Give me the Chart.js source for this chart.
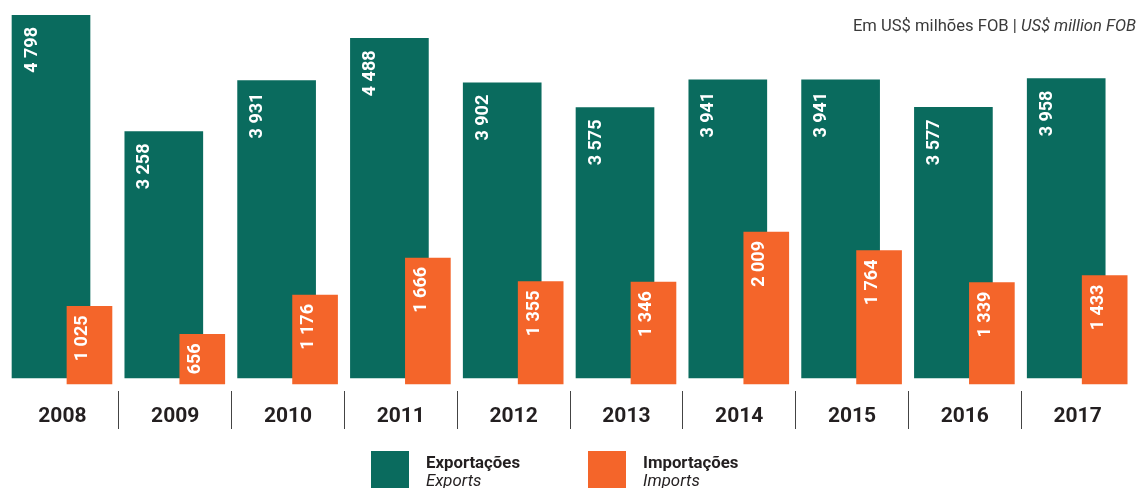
<!DOCTYPE html>
<html>
<head>
<meta charset="utf-8">
<script src="https://cdn.jsdelivr.net/npm/chart.js@4.4.0/dist/chart.umd.min.js"></script>
<style>
  body { margin: 0; background: #fff; }
  #wrap { position: relative; width: 1138px; height: 488px; overflow: hidden; font-family: Roboto, sans-serif; }
  #unit { position: absolute; right: 2px; top: 17px; font-size: 16.6px; line-height: 18px; color: #3a3a3a; white-space: nowrap; }
  .legend-item { position: absolute; top: 451px; }
  .legend-item .box { position: absolute; left: 0; top: 0; width: 38px; height: 38px; }
  .legend-item .txt { position: absolute; left: 55px; top: 2px; white-space: nowrap; font-size: 16.8px; line-height: 18px; color: #231f20; }
  .legend-item .txt b { display: block; font-weight: 700; }
  .legend-item .txt i { display: block; font-style: italic; }
</style>
</head>
<body>
<div id="wrap">
  <canvas id="myChart" width="1138" height="488"></canvas>
  <div id="unit">Em US$ milhões FOB | <i>US$ million FOB</i></div>
  <div id="legend"></div>
</div>
<script>
const years = [2008, 2009, 2010, 2011, 2012, 2013, 2014, 2015, 2016, 2017];
const exportsData = [4798, 3258, 3931, 4488, 3902, 3575, 3941, 3941, 3577, 3958];
const importsData = [1025, 656, 1176, 1666, 1355, 1346, 2009, 1764, 1339, 1433];
const seriesNames = ['Exportações', 'Importações'];
const seriesNamesEn = ['Exports', 'Imports'];
const seriesColors = ['#0a6b5e', '#f4652a'];

// thousands with a space, like "4 798"
function fmt(v) {
  return String(v).replace(/\B(?=(\d{3})+(?!\d))/g, ' ');
}

// white rotated values inside the top of each bar
const barLabels = {
  id: 'barLabels',
  afterDatasetsDraw(chart, args, opts) {
    const ctx = chart.ctx;
    chart.data.datasets.forEach((ds, di) => {
      const st = opts.styles[di];
      chart.getDatasetMeta(di).data.forEach((bar, i) => {
        const left = bar.x - bar.width / 2;
        ctx.save();
        ctx.translate(left + st.left, bar.y + st.top);
        ctx.rotate(-Math.PI / 2);
        ctx.font = 'bold 18px Roboto';
        ctx.fillStyle = '#ffffff';
        ctx.textAlign = 'right';
        ctx.textBaseline = 'middle';
        ctx.fillText(fmt(ds.data[i].y), 0, 0);
        ctx.restore();
      });
    });
  }
};

const ctx = document.getElementById('myChart');
const k = 363 / exportsData[0]; // px per unit, only used to line the two baselines up

const myChart = new Chart(ctx, {
  type: 'bar',
  data: {
    labels: years.map(String),
    datasets: [{
      label: seriesNames[0],
      data: years.map((y, i) => ({ x: y, y: exportsData[i] })),
      backgroundColor: seriesColors[0],
      xAxisID: 'xG',
      yAxisID: 'yG',
      barThickness: 78,
      grouped: false,
      order: 2
    }, {
      label: seriesNames[1],
      data: years.map((y, i) => ({ x: y, y: importsData[i] })),
      backgroundColor: seriesColors[1],
      xAxisID: 'xO',
      yAxisID: 'yO',
      barThickness: 45,
      grouped: false,
      order: 1
    }]
  },
  options: {
    responsive: false,
    animation: false,
    layout: { padding: { top: 15, left: 6, right: 4, bottom: 0 } },
    plugins: {
      legend: { display: false },
      tooltip: { enabled: false },
      barLabels: { styles: [{ left: 20, top: 12 }, { left: 16, top: 9 }] }
    },
    scales: {
      x: {
        type: 'category',
        offset: true,
        grid: {
          offset: true,
          drawOnChartArea: false,
          drawTicks: true,
          tickLength: 38,
          lineWidth: 1,
          color: c => (c.index > 0 && c.index < years.length) ? '#444444' : 'rgba(0,0,0,0)'
        },
        border: { display: false },
        ticks: { font: { family: 'Roboto', size: 21, weight: 'bold' }, color: '#231f20', padding: -25 },
        afterFit: s => { s.height = 97; }
      },
      xG: { type: 'linear', display: false, offset: false, grid: { offset: false },
            min: years[0] - 0.5 + 0.101, max: years[years.length - 1] + 0.5 + 0.101 },
      xO: { type: 'linear', display: false, offset: false, grid: { offset: false },
            min: years[0] - 0.5 - 0.240, max: years[years.length - 1] + 0.5 - 0.240 },
      yG: { type: 'linear', display: false, min: -13 / k, max: exportsData[0] },
      yO: { type: 'linear', display: false, min: -7 / k, max: 376 / k - 7 / k }
    }
  },
  plugins: [barLabels]
});

// legend from the datasets
const legend = document.getElementById('legend');
const legendLeft = [371, 588];
myChart.data.datasets.forEach((ds, i) => {
  const item = document.createElement('div');
  item.className = 'legend-item';
  item.style.left = legendLeft[i] + 'px';
  item.innerHTML = '<div class="box" style="background:' + ds.backgroundColor + '"></div>' +
    '<div class="txt"><b>' + ds.label + '</b><i>' + seriesNamesEn[i] + '</i></div>';
  legend.appendChild(item);
});
</script>
</body>
</html>
